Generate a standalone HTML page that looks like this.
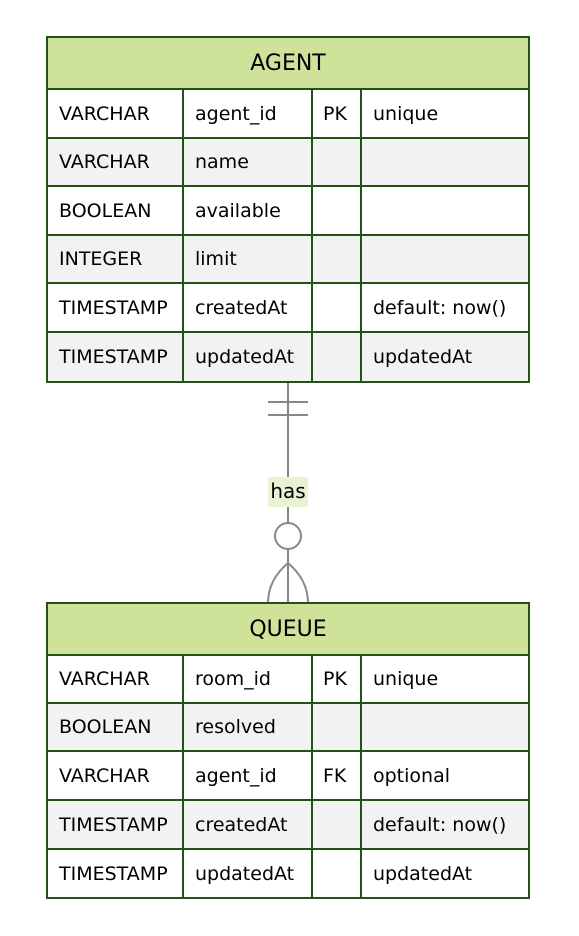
<!DOCTYPE html>
<html><head><meta charset="utf-8"><style>
html,body{margin:0;padding:0;background:#fff;}
text{font-family:"DejaVu Sans","Liberation Sans",sans-serif;fill:#000;}
</style></head><body>
<svg width="579" height="931" viewBox="0 0 579 931" xmlns="http://www.w3.org/2000/svg">
<!-- connector -->
<g stroke="#888" stroke-width="2" fill="none">
<line x1="288" y1="382" x2="288" y2="603"/>
<line x1="268" y1="402" x2="308" y2="402"/>
<line x1="268" y1="415" x2="308" y2="415"/>
<circle cx="288" cy="536" r="13" fill="#fff"/>
<path d="M288 563 Q268 580 268 603"/>
<path d="M288 563 Q308 580 308 603"/>
</g>
<rect x="268" y="477" width="40" height="30" fill="#e8f2d4"/>
<text x="288" y="498" font-size="20" text-anchor="middle">has</text>

<!-- AGENT -->
<rect x="47" y="37" width="482" height="52" fill="#cfe29a"/>
<rect x="47" y="89" width="482" height="49" fill="#fff"/>
<rect x="47" y="138" width="482" height="48" fill="#f2f2f2"/>
<rect x="47" y="186" width="482" height="49" fill="#fff"/>
<rect x="47" y="235" width="482" height="48" fill="#f2f2f2"/>
<rect x="47" y="283" width="482" height="49" fill="#fff"/>
<rect x="47" y="332" width="482" height="50" fill="#f2f2f2"/>
<g stroke="#245214" stroke-width="2" fill="none">
<rect x="47" y="37" width="482" height="345"/>
<line x1="47" y1="89" x2="529" y2="89"/>
<line x1="47" y1="138" x2="529" y2="138"/>
<line x1="47" y1="186" x2="529" y2="186"/>
<line x1="47" y1="235" x2="529" y2="235"/>
<line x1="47" y1="283" x2="529" y2="283"/>
<line x1="47" y1="332" x2="529" y2="332"/>
<line x1="183" y1="89" x2="183" y2="382"/>
<line x1="312" y1="89" x2="312" y2="382"/>
<line x1="361" y1="89" x2="361" y2="382"/>
</g>
<text x="288" y="70" font-size="22" text-anchor="middle">AGENT</text>
<g font-size="19">
<text x="59" y="120">VARCHAR</text><text x="195" y="120">agent_id</text><text x="323" y="120">PK</text><text x="373" y="120">unique</text>
<text x="59" y="168">VARCHAR</text><text x="195" y="168">name</text>
<text x="59" y="217">BOOLEAN</text><text x="195" y="217">available</text>
<text x="59" y="265">INTEGER</text><text x="195" y="265">limit</text>
<text x="59" y="314">TIMESTAMP</text><text x="195" y="314">createdAt</text><text x="373" y="314">default: now()</text>
<text x="59" y="363">TIMESTAMP</text><text x="195" y="363">updatedAt</text><text x="373" y="363">updatedAt</text>
</g>

<!-- QUEUE -->
<rect x="47" y="603" width="482" height="52" fill="#cfe29a"/>
<rect x="47" y="655" width="482" height="48" fill="#fff"/>
<rect x="47" y="703" width="482" height="48" fill="#f2f2f2"/>
<rect x="47" y="751" width="482" height="49" fill="#fff"/>
<rect x="47" y="800" width="482" height="49" fill="#f2f2f2"/>
<rect x="47" y="849" width="482" height="49" fill="#fff"/>
<g stroke="#245214" stroke-width="2" fill="none">
<rect x="47" y="603" width="482" height="295"/>
<line x1="47" y1="655" x2="529" y2="655"/>
<line x1="47" y1="703" x2="529" y2="703"/>
<line x1="47" y1="751" x2="529" y2="751"/>
<line x1="47" y1="800" x2="529" y2="800"/>
<line x1="47" y1="849" x2="529" y2="849"/>
<line x1="183" y1="655" x2="183" y2="898"/>
<line x1="312" y1="655" x2="312" y2="898"/>
<line x1="361" y1="655" x2="361" y2="898"/>
</g>
<text x="288" y="636" font-size="22" text-anchor="middle">QUEUE</text>
<g font-size="19">
<text x="59" y="685">VARCHAR</text><text x="195" y="685">room_id</text><text x="323" y="685">PK</text><text x="373" y="685">unique</text>
<text x="59" y="733">BOOLEAN</text><text x="195" y="733">resolved</text>
<text x="59" y="782">VARCHAR</text><text x="195" y="782">agent_id</text><text x="323" y="782">FK</text><text x="373" y="782">optional</text>
<text x="59" y="831">TIMESTAMP</text><text x="195" y="831">createdAt</text><text x="373" y="831">default: now()</text>
<text x="59" y="880">TIMESTAMP</text><text x="195" y="880">updatedAt</text><text x="373" y="880">updatedAt</text>
</g>
</svg>
</body></html>
